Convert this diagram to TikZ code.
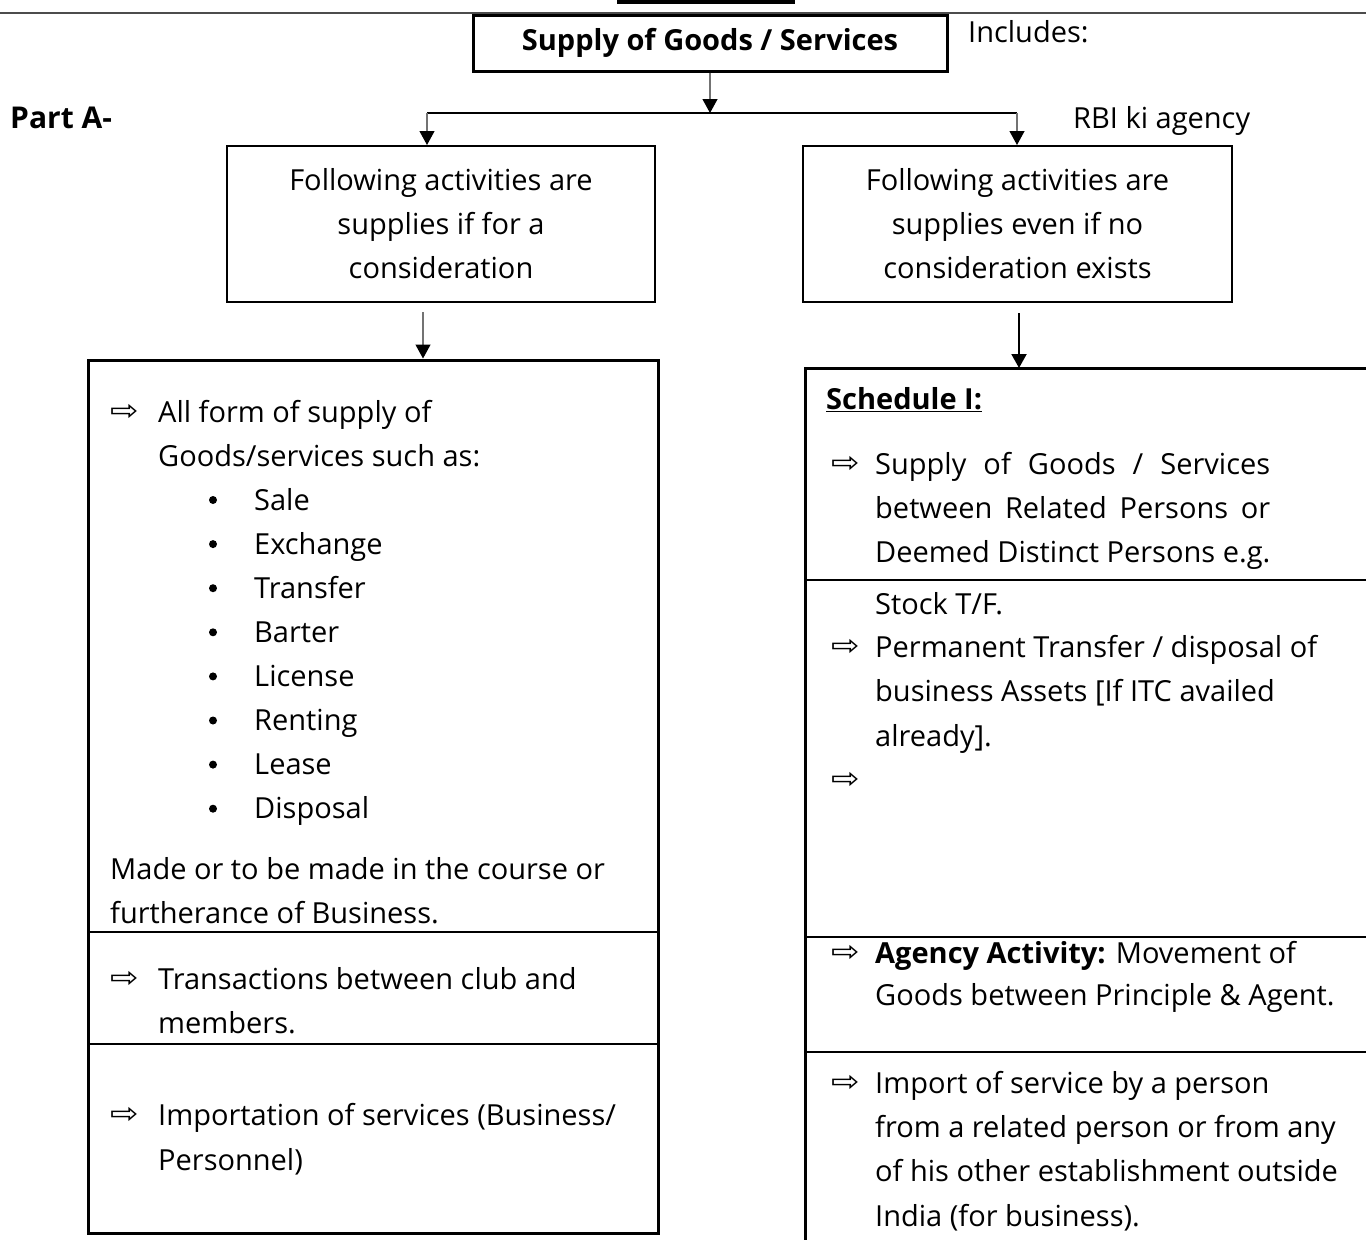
\documentclass[tikz,border=0pt]{standalone}
\usepackage{fontspec}
\setmainfont{Open Sans}
\newfontfamily\symfont{DejaVu Sans}
\usetikzlibrary{arrows.meta}

\tikzset{
  txt/.style={anchor=base west, inner sep=0pt, font=\fontsize{29}{44}\selectfont},
  ptr/.style={anchor=west, inner sep=0pt, font=\symfont\fontsize{40}{40}\selectfont},
  dot/.style={circle, fill=black, inner sep=0pt, minimum size=8pt},
  topbox/.style={draw, line width=2pt, inner sep=0pt, align=center, font=\fontsize{29}{44}\selectfont},
  bigbox/.style={draw, line width=3pt, inner sep=0pt},
  wire/.style={draw=black!55, line width=1.2pt, -{Triangle[length=14pt,width=15pt,color=black]}},
  rowline/.style={line width=2pt},
}
\newcommand{\pointsym}{\scalebox{0.85}[0.72]{⇨}}

\begin{document}
\begin{tikzpicture}[x=1pt,y=-1pt]
\useasboundingbox (0,0) rectangle (1366,1240);
% Heading rule
\fill (617,0) rectangle (795,4);
\draw[black!70, line width=1.5pt] (0,13) -- (1366,13);
% Root box and side labels
\node[topbox, line width=3pt, font=\bfseries\fontsize{29}{44}\selectfont, minimum width=474pt, minimum height=56pt] (supply) at (710,43) {Supply of Goods / Services};
\node[txt] (incl) at (968,42) {Includes:};
\node[txt, font=\bfseries\fontsize{30}{44}\selectfont] (parta) at (10,128) {Part A-};
\node[txt] (rbi) at (1073,128) {RBI ki agency};
% Second level boxes
\node[topbox, minimum width=428pt, minimum height=156pt] (condL) at (441,224) {Following activities are\\supplies if for a\\consideration};
\node[topbox, minimum width=429pt, minimum height=156pt] (condR) at (1017.5,224) {Following activities are\\supplies even if no\\consideration exists};
% Split
\coordinate (split) at (710,113);
\coordinate (splitL) at (427,113);
\coordinate (splitR) at (1017,113);
\draw[wire] (supply.south) -- (split);
\draw[line width=2pt] (splitL) -- (splitR);
\draw[wire] (splitL) -- (splitL |- condL.north);
\draw[wire] (splitR) -- (splitR |- condR.north);
% Left list box
\node[bigbox, minimum width=570pt, minimum height=873pt] (listL) at (373,796.5) {};
\coordinate (fromL) at (423,312);
\draw[wire] (fromL) -- (fromL |- listL.north);
\draw[rowline] (88,932) -- (658,932);
\draw[rowline] (88,1044) -- (658,1044);
% Right list box (runs off the page)
\coordinate (schedTL) at (805,368);
\coordinate (schedTR) at (1366,368);
\coordinate (schedBL) at (805,1240);
\draw[line width=3pt] (schedTR) -- (schedTL) -- (schedBL);
\coordinate (fromR) at (1019,313);
\draw[wire, draw=black, line width=2pt] (fromR) -- (fromR |- schedTL);
\draw[rowline] (805,580) -- (1366,580);
\draw[rowline] (805,937) -- (1366,937);
\draw[rowline] (805,1052) -- (1366,1052);
% Left texts
\foreach \x/\y/\t [count=\i] in {158/422/{All form of supply of}, 158/466/{Goods/services such as:},
    110/879/{Made or to be made in the course or}, 110/923/{furtherance of Business.},
    158/989/{Transactions between club and}, 158/1033/{members.},
    158/1125/{Importation of services (Business/}, 158/1170/{Personnel)}}
  \node[txt] (lt\i) at (\x,\y) {\t};
\foreach \t [count=\i] in {Sale,Exchange,Transfer,Barter,License,Renting,Lease,Disposal} {
  \node[txt] (item\i) at (254,{510+44.1*(\i-1)}) {\t};
  \node[dot] (bul\i) at (213,{500+44.1*(\i-1)}) {};
}
\foreach \y [count=\i] in {412,979,1115}
  \node[ptr] (pl\i) at (110,\y) {\pointsym};
% Right texts
\node[txt, font=\bfseries\fontsize{29}{44}\selectfont] (sched) at (826,409) {\underline{Schedule I:}};
\foreach \y/\t [count=\i] in {474/{\makebox[395pt][s]{Supply of Goods / Services}},
    518/{\makebox[395pt][s]{between Related Persons or}}, 562/{Deemed Distinct Persons e.g.},
    614/{Stock T/F.}, 657/{Permanent Transfer / disposal of}, 701/{business Assets [If ITC availed},
    746/{already].}, 963/{\textbf{Agency Activity:} Movement of}, 1005/{Goods between Principle \& Agent.},
    1093/{Import of service by a person}, 1137/{from a related person or from any},
    1181/{of his other establishment outside}, 1226/{India (for business).}}
  \node[txt] (rt\i) at (875,\y) {\t};
\foreach \y [count=\i] in {464,647,780,953,1083}
  \node[ptr] (pr\i) at (831,\y) {\pointsym};
\end{tikzpicture}
\end{document}
